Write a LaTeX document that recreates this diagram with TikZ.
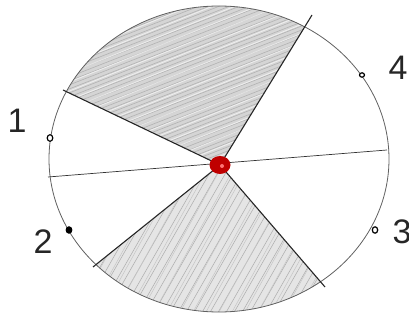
\documentclass[tikz,border=0pt]{standalone}
\usepackage{fontspec}
\setmainfont{Liberation Sans}
\usetikzlibrary{calc}
\begin{document}
\begin{tikzpicture}[x=1pt,y=-1pt,
  rim/.style={draw=gray!75!black, line width=0.8pt},
  spoke/.style={draw=black!85, line width=1.1pt},
  thinspoke/.style={draw=black!80, line width=0.7pt},
  shadefill/.style={fill=gray!33},
  hatchdark/.style={draw=gray!60, line width=0.6pt},
  hatchlight/.style={draw=white, line width=0.9pt, opacity=0.6},
  rimdot/.style={draw=black, line width=1.2pt, fill=white},
  numtext/.style={font=\fontsize{34}{34}\selectfont, text=black!85, inner sep=0pt}
]
\useasboundingbox (0,0) rectangle (409,320);
\coordinate (C) at (220,165);
\coordinate (UL) at (63,90);
\coordinate (UR) at (312,15);
\coordinate (LL) at (93,267);
\coordinate (LR) at (325,287);
\coordinate (HL) at (48,177);
\coordinate (HR) at (387,150);
\coordinate (O) at (219,159);

% shaded sectors
\begin{scope}
  \clip (O) ellipse [x radius=170pt, y radius=153pt];
  \begin{scope}
    \clip (C) -- ($(C)!2!(UL)$) -- (-94,-150) -- (420,-150) -- ($(C)!2!(UR)$) -- cycle;
    \fill[shadefill] (-100,-200) rectangle (500,200);
    \foreach \b in {0,4,...,400} {
      \draw[hatchdark] (0,\b) -- (409,\b-160);
    }
    \foreach \b in {2,11,...,400} {
      \draw[hatchlight] (0,\b) -- (409,\b-165);
    }
  \end{scope}
  \begin{scope}
    \clip (C) -- ($(C)!2!(LL)$) -- (-40,420) -- (440,420) -- ($(C)!2!(LR)$) -- cycle;
    \fill[gray!20] (-100,100) rectangle (500,400);
    \foreach \a in {-120,-112,...,420} {
      \draw[hatchdark] (\a,330) -- (\a+180,15);
    }
    \foreach \a in {-116,-103,...,420} {
      \draw[draw=gray!45, line width=0.5pt] (\a,330) -- (\a+175,15);
    }
  \end{scope}
\end{scope}

% rim
\draw[rim] (O) ellipse [x radius=170pt, y radius=153pt];

% spokes
\draw[thinspoke] (HL) -- (HR);
\draw[spoke] (C) -- (UL);
\draw[spoke] (C) -- (UR);
\draw[spoke] (C) -- (LL);
\draw[spoke] (C) -- (LR);

% marks on rim
\draw[rimdot] (50,138) ellipse [x radius=2.8pt, y radius=3.3pt];
\fill[black] (69,230) ellipse [x radius=3.4pt, y radius=3.8pt];
\draw[rimdot] (375,230) ellipse [x radius=2.7pt, y radius=3.2pt];
\draw[rimdot] (362,75) ellipse [x radius=2.5pt, y radius=2.2pt];

% centre
\fill[red!75!black] (C) ellipse [x radius=10.5pt, y radius=9pt];
\fill[red!55] (222,166) circle [radius=2pt];

% labels
\node[numtext] (n1) at (17,121) {1};
\node[numtext] (n2) at (43,242) {2};
\node[numtext] (n3) at (402,232) {3};
\node[numtext] (n4) at (398,68) {4};
\end{tikzpicture}
\end{document}
